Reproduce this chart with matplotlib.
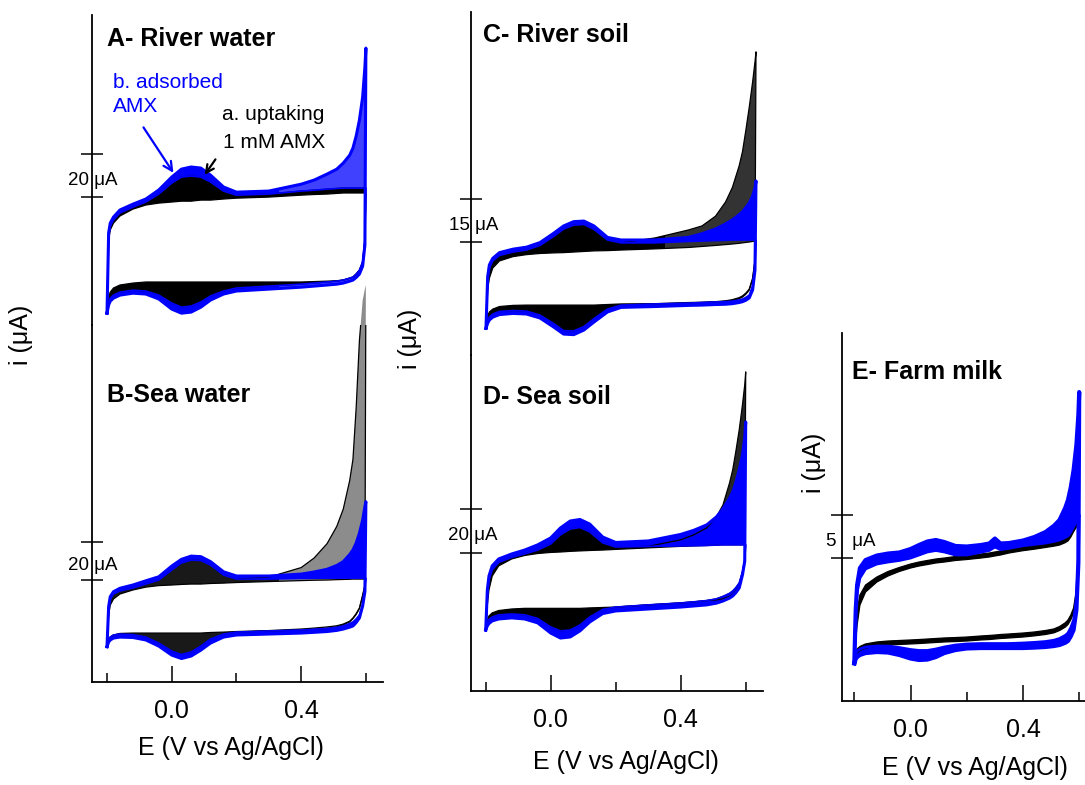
import numpy as np
import matplotlib
matplotlib.use('Agg')
import matplotlib.pyplot as plt
from matplotlib.path import Path
from matplotlib.patches import PathPatch, Rectangle

plt.rcParams['font.family'] = ['Liberation Sans', 'DejaVu Sans']

# ---------------- data (E in V vs Ag/AgCl, i in uA) ----------------
# anodic arrays follow the potential grid ascending, cathodic arrays follow it descending
POT = [-0.2, -0.195, -0.19, -0.18, -0.16, -0.12, -0.08, -0.04, 0.0, 0.03, 0.06, 0.09,
       0.12, 0.16, 0.2, 0.3, 0.4, 0.44, 0.48, 0.51, 0.53, 0.55, 0.56, 0.57, 0.58, 0.59, 0.597, 0.6]

# A - River water
A_blue_out_an = [-54.0, -16.7, -12.1, -9.3, -6.0, -3.3, -0.9, 3.3, 9.3, 13.0, 14.0, 13.5, 10.2, 4.7, 2.3, 2.8, 6.0, 7.9, 10.7, 13.0, 15.8, 19.5, 22.8, 28.4, 35.8, 46.5, 60.5, 69.3]
A_blue_out_ca = [69.3, -22.3, -32.1, -35.8, -37.4, -38.6, -39.1, -40.0, -40.5, -40.9, -41.4, -41.9, -42.8, -43.7, -45.1, -47.9, -51.2, -53.5, -54.0, -52.1, -47.4, -45.1, -44.7, -45.6, -47.0, -48.4, -50.2, -54.0]
A_blue_in_an = [-54.0, -18.1, -13.5, -10.7, -7.4, -4.7, -2.3, 1.4, 6.5, 9.3, 9.8, 9.3, 7.0, 2.8, 0.9, 1.4, 2.8, 3.2, 3.7, 4.0, 4.2, 4.2, 4.2, 4.2, 4.2, 4.2, 4.2, 4.2]
A_blue_in_ca = [4.2, -20.0, -30.2, -34.0, -35.8, -37.2, -37.7, -38.6, -39.1, -39.5, -40.0, -40.5, -41.4, -42.3, -43.7, -46.0, -48.8, -50.7, -51.2, -49.3, -45.6, -43.7, -43.3, -44.2, -45.6, -47.0, -48.8, -54.0]
A_black_out_an = A_blue_in_an
A_black_out_ca = A_blue_in_ca
A_black_in_an = [-54.0, -20.0, -15.3, -12.1, -8.8, -5.6, -3.7, -2.8, -2.3, -1.9, -1.9, -1.4, -1.4, -0.9, -0.5, 0.0, 0.9, 1.2, 1.4, 1.7, 1.9, 1.9, 1.9, 1.9, 1.9, 1.9, 1.9, 1.9]
A_black_in_ca = [1.9, -20.0, -30.2, -34.0, -35.8, -37.2, -37.7, -38.6, -38.9, -39.1, -39.3, -39.5, -39.5, -39.5, -39.5, -39.5, -39.5, -39.5, -39.5, -39.5, -39.5, -39.5, -40.0, -40.9, -42.3, -44.2, -46.5, -54.0]

# B - Sea water
B_blue_out_an = [-34.8, -13.9, -8.7, -6.1, -4.3, -2.6, -0.4, 1.7, 7.3, 10.8, 12.5, 12.2, 9.6, 4.3, 2.1, 2.1, 3.1, 4.2, 5.6, 7.6, 9.6, 13.3, 15.7, 19.3, 24.4, 31.3, 38.3, 40.9]
B_blue_out_ca = [40.9, -6.0, -13.5, -19.8, -22.2, -24.0, -24.6, -25.6, -26.3, -26.9, -27.3, -27.7, -28.2, -28.7, -29.8, -32.9, -36.6, -39.7, -41.0, -39.2, -34.5, -31.3, -30.0, -29.8, -30.3, -31.3, -32.4, -34.8]
B_blue_in_an = [-34.8, -15.1, -9.9, -7.3, -5.7, -4.2, -2.1, 0.0, 5.2, 8.9, 10.4, 10.2, 7.8, 2.6, 0.5, 0.5, 0.8, 0.9, 1.0, 1.0, 1.0, 1.0, 1.0, 1.0, 1.0, 1.0, 1.0, 1.0]
B_blue_in_ca = [1.0, -5.2, -13.1, -18.3, -20.3, -21.9, -22.7, -24.0, -24.7, -25.3, -25.7, -26.1, -26.6, -27.2, -28.2, -30.8, -34.5, -37.6, -38.9, -37.1, -32.9, -29.8, -28.5, -28.2, -28.7, -29.8, -30.8, -34.8]
B_black_out_an = [-34.8, -15.1, -9.9, -7.3, -5.7, -4.2, -2.1, 0.0, 5.2, 8.9, 10.4, 10.2, 7.8, 2.6, 0.5, 1.5, 6.5, 11.5, 19.0, 28.0, 37.0, 52.0, 63.0, 90.0, 125.0, 146.0, 152.0, 154.0]
B_black_out_ca = [154.0, -3.0, -8.5, -15.0, -18.0, -20.2, -21.9, -23.4, -24.5, -25.3, -25.7, -26.1, -26.6, -27.2, -28.2, -30.8, -34.5, -37.6, -38.9, -37.1, -32.9, -29.8, -28.5, -28.2, -28.7, -29.8, -30.8, -34.8]
B_black_in_an = [-34.8, -18.3, -13.1, -9.9, -7.3, -5.2, -3.7, -2.9, -2.6, -2.3, -2.1, -2.1, -1.8, -1.6, -1.3, -0.8, -0.3, -0.1, 0.0, 0.2, 0.3, 0.4, 0.5, 0.5, 0.5, 0.5, 0.5, 0.5]
B_black_in_ca = [0.5, -2.6, -7.8, -14.6, -17.5, -19.8, -21.5, -23.0, -23.9, -24.5, -25.1, -25.6, -26.4, -26.9, -27.2, -27.4, -27.7, -27.7, -27.7, -27.7, -27.7, -27.7, -27.7, -27.9, -28.7, -29.8, -31.3, -34.8]

# C - River soil
C_blue_out_an = [-30.1, -12.1, -8.0, -5.7, -3.7, -2.5, -1.8, -0.2, 3.0, 5.6, 7.1, 7.3, 5.6, 1.6, 0.7, 0.7, 1.6, 2.9, 4.5, 6.3, 7.7, 9.5, 10.5, 12.0, 13.6, 16.0, 18.8, 21.3]
C_blue_out_ca = [21.3, -9.8, -16.7, -19.5, -20.3, -20.8, -21.1, -21.5, -21.7, -21.8, -22.0, -22.1, -22.5, -22.8, -24.4, -27.9, -30.7, -32.3, -32.1, -29.6, -26.5, -25.1, -24.9, -25.3, -26.2, -27.2, -28.3, -30.1]
C_blue_in_an = [-30.1, -12.9, -9.1, -6.6, -4.7, -3.5, -2.8, -1.2, 1.9, 4.5, 5.9, 6.1, 4.4, 0.7, -0.3, -0.3, 0.2, 0.35, 0.5, 0.6, 0.7, 0.7, 0.7, 0.7, 0.7, 0.7, 0.7, 0.7]
C_blue_in_ca = [0.7, -9.1, -15.3, -18.5, -19.3, -19.9, -20.2, -20.6, -20.8, -20.9, -21.1, -21.3, -21.6, -22.0, -23.4, -26.7, -29.5, -31.0, -30.9, -28.4, -25.5, -24.1, -23.9, -24.2, -25.1, -26.2, -27.2, -30.1]
C_black_out_an = [-30.1, -12.9, -9.1, -6.6, -4.7, -3.5, -2.8, -1.2, 1.9, 4.5, 5.9, 6.1, 4.4, 0.7, -0.3, 1.4, 4.2, 5.6, 9.0, 14.0, 19.0, 26.5, 31.5, 39.0, 47.0, 55.8, 62.8, 66.3]
C_black_out_ca = [66.3, -6.5, -13.0, -16.8, -18.2, -19.2, -19.8, -20.4, -20.7, -20.9, -21.1, -21.3, -21.6, -22.0, -23.4, -26.7, -29.5, -31.0, -30.9, -28.4, -25.5, -24.1, -23.9, -24.2, -25.1, -26.2, -27.2, -30.1]
C_black_in_an = [-30.1, -16.7, -12.6, -9.1, -6.6, -5.1, -4.4, -4.0, -3.8, -3.7, -3.5, -3.3, -3.1, -3.0, -2.8, -2.4, -1.9, -1.55, -1.2, -0.9, -0.7, -0.45, -0.3, -0.15, 0.0, 0.2, 0.3, 0.3]
C_black_in_ca = [0.3, -6.3, -12.6, -16.4, -17.8, -18.8, -19.4, -20.1, -20.5, -20.8, -21.0, -21.1, -21.5, -21.6, -21.8, -22.0, -22.0, -22.0, -22.0, -22.0, -22.0, -22.0, -22.1, -22.5, -23.4, -24.4, -25.8, -30.1]

# D - Sea soil
D_blue_out_an = [-35.7, -17.2, -10.8, -6.1, -2.9, -0.6, 1.2, 3.6, 6.8, 11.4, 14.6, 15.3, 13.2, 7.2, 4.7, 5.4, 8.4, 10.3, 12.8, 16.5, 20.2, 25.0, 28.0, 32.5, 38.2, 45.1, 52.9, 60.3]
D_blue_out_ca = [60.3, -4.0, -10.3, -16.3, -18.4, -20.0, -21.0, -22.3, -23.3, -24.1, -24.6, -25.1, -26.0, -26.9, -28.1, -32.0, -36.1, -38.9, -39.4, -37.1, -32.4, -30.6, -30.1, -30.6, -31.5, -32.7, -33.8, -35.7]
D_blue_in_an = [-35.7, -19.5, -12.6, -8.0, -4.5, -2.2, -0.6, 1.2, 4.0, 8.2, 10.9, 11.6, 9.6, 4.5, 2.6, 2.9, 3.1, 3.2, 3.3, 3.5, 3.6, 3.6, 3.6, 3.6, 3.6, 3.6, 3.6, 3.6]
D_blue_in_ca = [3.6, -3.4, -8.9, -14.0, -16.1, -17.7, -18.8, -20.2, -21.3, -22.1, -22.7, -23.2, -24.1, -25.1, -26.2, -29.7, -33.4, -35.7, -36.1, -34.3, -30.4, -28.7, -28.3, -28.7, -29.7, -30.8, -32.0, -35.7]
D_black_out_an = [-35.7, -19.5, -12.6, -8.0, -4.5, -2.2, -0.6, 1.2, 4.0, 8.2, 10.9, 11.6, 9.6, 4.5, 2.6, 2.9, 5.9, 8.2, 11.4, 16.5, 22.0, 32.0, 38.2, 47.0, 56.6, 68.2, 77.4, 83.4]
D_black_out_ca = [83.4, -3.6, -10.5, -15.6, -17.6, -19.3, -20.2, -21.3, -21.8, -22.1, -22.7, -23.2, -24.1, -25.1, -26.2, -29.7, -33.4, -35.7, -36.1, -34.3, -30.4, -28.7, -28.3, -28.7, -29.7, -30.8, -32.0, -35.7]
D_black_in_an = [-35.7, -24.1, -17.2, -10.8, -6.1, -2.9, -1.3, -0.4, 0.1, 0.3, 0.6, 0.8, 1.0, 1.2, 1.5, 2.2, 2.9, 3.1, 3.3, 3.5, 3.6, 3.6, 3.6, 3.6, 3.6, 3.6, 3.6, 3.6]
D_black_in_ca = [3.6, -3.4, -8.9, -14.0, -16.1, -17.7, -18.8, -20.2, -21.3, -22.1, -22.7, -23.2, -24.1, -25.1, -25.3, -25.5, -25.7, -25.7, -25.7, -25.7, -25.7, -25.7, -26.0, -26.7, -27.8, -29.2, -31.1, -35.7]

# E - Farm milk (own grid)
POT_E = [-0.2, -0.195, -0.19, -0.18, -0.16, -0.12, -0.08, -0.04, 0.0, 0.03, 0.06, 0.09, 0.12, 0.16,
         0.2, 0.25, 0.28, 0.3, 0.32, 0.35, 0.4, 0.44, 0.48, 0.51, 0.53, 0.55, 0.56, 0.57, 0.58, 0.59, 0.597, 0.6]
E_blue_out_an = [-12.11, -5.96, -3.08, -1.12, -0.20, 0.32, 0.55, 0.67, 1.07, 1.53, 1.94, 2.11, 1.88, 1.42, 1.36, 1.53, 1.71, 2.28, 1.71, 1.76, 2.05, 2.45, 3.03, 3.75, 4.42, 5.8, 6.72, 8.2, 10.18, 13.07, 16.53, 19.18]
E_blue_out_ca = [19.18, -0.50, -5.96, -8.27, -9.0, -9.54, -9.75, -10.00, -10.12, -10.23, -10.3, -10.35, -10.35, -10.35, -10.35, -10.35, -10.35, -10.40, -10.58, -10.93, -11.39, -11.68, -11.73, -11.56, -11.15, -10.87, -10.81, -10.93, -11.15, -11.39, -11.62, -12.11]
E_blue_in_an = [-12.11, -6.19, -3.89, -2.27, -1.23, -0.66, -0.43, -0.25, 0.03, 0.38, 0.73, 0.90, 0.73, 0.38, 0.38, 0.70, 0.90, 1.30, 1.00, 1.15, 1.45, 1.6, 1.76, 1.95, 2.11, 2.4, 2.57, 3.0, 3.64, 4.22, 4.65, 4.99]
E_blue_in_ca = [4.99, -0.25, -4.81, -7.12, -8.0, -8.62, -8.9, -9.25, -9.45, -9.60, -9.7, -9.77, -9.83, -9.83, -9.83, -9.83, -9.83, -9.88, -10.00, -10.23, -10.46, -10.63, -10.63, -10.52, -10.29, -10.12, -10.12, -10.23, -10.46, -10.69, -11.04, -12.11]
E_black_out_an = [-12.11, -7.69, -5.96, -4.23, -3.08, -2.16, -1.52, -1.06, -0.66, -0.43, -0.25, -0.08, 0.03, 0.21, 0.32, 0.50, 0.61, 0.73, 0.84, 1.07, 1.34, 1.55, 1.76, 1.95, 2.11, 2.4, 2.57, 3.0, 3.64, 4.22, 4.53, 4.65]
E_black_out_ca = [4.65, -0.77, -4.35, -6.31, -7.1, -7.64, -7.95, -8.33, -8.6, -8.79, -8.95, -9.08, -9.19, -9.25, -9.31, -9.37, -9.42, -9.54, -9.60, -9.65, -9.71, -9.77, -9.83, -9.88, -9.94, -10.00, -10.12, -10.35, -10.63, -10.93, -11.27, -12.11]
E_black_in_an = [-12.11, -9.45, -7.69, -5.39, -3.89, -2.74, -2.04, -1.52, -1.12, -0.89, -0.72, -0.54, -0.43, -0.25, -0.14, 0.03, 0.15, 0.27, 0.38, 0.61, 0.88, 1.05, 1.25, 1.4, 1.53, 1.8, 2.00, 2.45, 3.07, 3.61, 3.96, 4.07]
E_black_in_ca = [4.07, -0.20, -3.66, -5.73, -6.55, -7.12, -7.45, -7.87, -8.15, -8.33, -8.5, -8.62, -8.73, -8.79, -8.85, -8.90, -8.96, -9.08, -9.14, -9.19, -9.25, -9.31, -9.37, -9.42, -9.48, -9.54, -9.65, -9.88, -10.17, -10.46, -10.81, -12.11]

TITLES = ['A- River water', 'B-Sea water', 'C- River soil', 'D- Sea soil', 'E- Farm milk']
SCALES = [20, 20, 15, 20, 5]
SCALE_LABELS = ['20 \u03bcA', '20 \u03bcA', '15 \u03bcA', '20 \u03bcA', '5   \u03bcA']
XTICKS = [0.0, 0.4]
XTICKLABELS = ['0.0', '0.4']
XMINOR = [-0.2, 0.2, 0.6]

# ---------------- figure ----------------
W, H = 1085, 785
fig = plt.figure(figsize=(W / 100, H / 100), dpi=100)
BLUE = '#0000ff'
E_SPLIT = 0.33   # where the dense peak region gives way to the spread-out tail


def rect(x0, x1, y0, y1):
    return [x0 / W, 1 - y1 / H, (x1 - x0) / W, (y1 - y0) / H]


def ftext(x, y, s, **kw):
    fig.text(x / W, 1 - y / H, s, **kw)


def loop_xy(E, an, ca):
    E = list(E)
    assert len(an) == len(E) and len(ca) == len(E)
    return np.array(E + E[::-1]), np.array(list(an) + list(ca))


def draw_group(ax, E, out_an, out_ca, in_an, in_ca, color, a_core, a_fan, lw_out, lw_in):
    xo, yo = loop_xy(E, out_an, out_ca)
    xi, yi = loop_xy(E, in_an, in_ca)
    outer = np.column_stack([xo, yo])
    inner = np.column_stack([xi, yi])[::-1]
    verts = np.concatenate([outer, outer[:1], inner, inner[:1]])
    codes = ([Path.MOVETO] + [Path.LINETO] * (len(outer) - 1) + [Path.CLOSEPOLY]
             + [Path.MOVETO] + [Path.LINETO] * (len(inner) - 1) + [Path.CLOSEPOLY])
    path = Path(verts, codes)
    for (x0, x1, a) in [(-1.0, E_SPLIT, a_core), (E_SPLIT, 1.0, a_fan)]:
        p = PathPatch(path, facecolor=color, edgecolor='none', alpha=a, lw=0)
        ax.add_patch(p)
        p.set_clip_path(Rectangle((x0, -1e4), x1 - x0, 2e4, transform=ax.transData))
    ax.plot(xo, yo, color=color, lw=lw_out, solid_joinstyle='round')
    ax.plot(xi, yi, color=color, lw=lw_in, solid_joinstyle='round')


def setup(ax, xlim, ylim, scale, label, dx, xaxis):
    ax.set_xlim(*xlim)
    ax.set_ylim(*ylim)
    ax.patch.set_alpha(0)
    for s in ['top', 'right']:
        ax.spines[s].set_visible(False)
    ax.spines['left'].set_linewidth(1.3)
    ax.set_yticks([0, scale])
    ax.tick_params(axis='y', direction='inout', length=15.5, width=1.1, labelleft=False)
    if xaxis:
        ax.spines['bottom'].set_linewidth(1.3)
        ax.set_xticks(XTICKS)
        ax.set_xticklabels(XTICKLABELS)
        ax.set_xticks(XMINOR, minor=True)
        ax.tick_params(axis='x', which='major', direction='in', length=11.5, width=1.1,
                       pad=12.5, labelsize=18)
        ax.tick_params(axis='x', which='minor', direction='in', length=6.5, width=1.1)
    else:
        ax.spines['bottom'].set_visible(False)
        ax.tick_params(axis='x', which='both', bottom=False, labelbottom=False)
    ax.annotate(label, xy=(0, scale / 2), xycoords=('axes fraction', 'data'),
                xytext=(dx, -3.5), textcoords='offset points', ha='center', va='center',
                fontsize=13.5)


panels = [
    # rect, xlim, ylim, grid, black arrays, blue arrays,
    # (black core, black tail, blue core, blue tail) alphas, blue line widths, x-axis, label shift
    (rect(92, 383, 15, 325), (-0.2464, 0.6529), (-59.5, 84.7), POT,
     (A_black_out_an, A_black_out_ca, A_black_in_an, A_black_in_ca),
     (A_blue_out_an, A_blue_out_ca, A_blue_in_an, A_blue_in_ca),
     (1.0, 1.0, 1.0, 0.75), (2.2, 1.2), False, 0.8),
    (rect(92, 383, 325, 681.7), (-0.2464, 0.6529), (-53.1, 133.2), POT,
     (B_black_out_an, B_black_out_ca, B_black_in_an, B_black_in_ca),
     (B_blue_out_an, B_blue_out_ca, B_blue_in_an, B_blue_in_ca),
     (0.9, 0.45, 1.0, 1.0), (2.2, 1.2), True, 0.8),
    (rect(470.7, 770, 12, 355), (-0.2453, 0.6415), (-39.4, 80.2), POT,
     (C_black_out_an, C_black_out_ca, C_black_in_an, C_black_in_ca),
     (C_blue_out_an, C_blue_out_ca, C_blue_in_an, C_blue_in_ca),
     (1.0, 0.8, 1.0, 1.0), (2.2, 1.2), False, 2.0),
    (rect(470.7, 762.7, 355, 690.7), (-0.2462, 0.6523), (-63.7, 91.2), POT,
     (D_black_out_an, D_black_out_ca, D_black_in_an, D_black_in_ca),
     (D_blue_out_an, D_blue_out_ca, D_blue_in_an, D_blue_in_ca),
     (1.0, 0.85, 1.0, 1.0), (2.2, 1.2), True, 1.5),
    (rect(842, 1085, 333, 701), (-0.2438, 0.6206), (-16.46, 25.99), POT_E,
     (E_black_out_an, E_black_out_ca, E_black_in_an, E_black_in_ca),
     (E_blue_out_an, E_blue_out_ca, E_blue_in_an, E_blue_in_ca),
     (1.0, 1.0, 1.0, 1.0), (3.0, 2.0), True, 6.5),
]

axes = []
for k, (r, xl, yl, grid, blk, blu, al, lws, xaxis, dx) in enumerate(panels):
    ax = fig.add_axes(r)
    draw_group(ax, grid, *blk, color='black', a_core=al[0], a_fan=al[1], lw_out=0.9, lw_in=0.9)
    draw_group(ax, grid, *blu, color=BLUE, a_core=al[2], a_fan=al[3], lw_out=lws[0], lw_in=lws[1])
    setup(ax, xl, yl, SCALES[k], SCALE_LABELS[k], dx, xaxis)
    axes.append(ax)

# panel titles
for (x, y), t in zip([(107, 39), (107, 395), (483, 35), (483, 397), (852, 372)], TITLES):
    ftext(x, y, t, ha='left', va='center', fontsize=18, fontweight='bold')

# annotations in panel A
ftext(113, 82, 'b. adsorbed', ha='left', va='center', fontsize=15, color=BLUE)
ftext(113, 107, 'AMX', ha='left', va='center', fontsize=15, color=BLUE)
ftext(222, 115, 'a. uptaking', ha='left', va='center', fontsize=15, color='black')
ftext(223, 142, '1 mM AMX', ha='left', va='center', fontsize=15, color='black')
axA = axes[0]
axA.annotate('', xy=(0.010, 10.2), xytext=(-0.092, 33.5),
             arrowprops=dict(arrowstyle='->', color=BLUE, lw=1.6, mutation_scale=16))
axA.annotate('', xy=(0.097, 9.3), xytext=(0.140, 18.6),
             arrowprops=dict(arrowstyle='->', color='black', lw=1.6, mutation_scale=14))

# axis labels
for (x, y) in [(21, 335), (410, 339), (814, 463)]:
    ftext(x, y, 'i (\u03bcA)', rotation=90, ha='center', va='center', fontsize=18)
for (x, y) in [(231, 748), (626, 762), (975, 768)]:
    ftext(x, y, 'E (V vs Ag/AgCl)', ha='center', va='center', fontsize=18)

fig.savefig('out.png', dpi=100)
